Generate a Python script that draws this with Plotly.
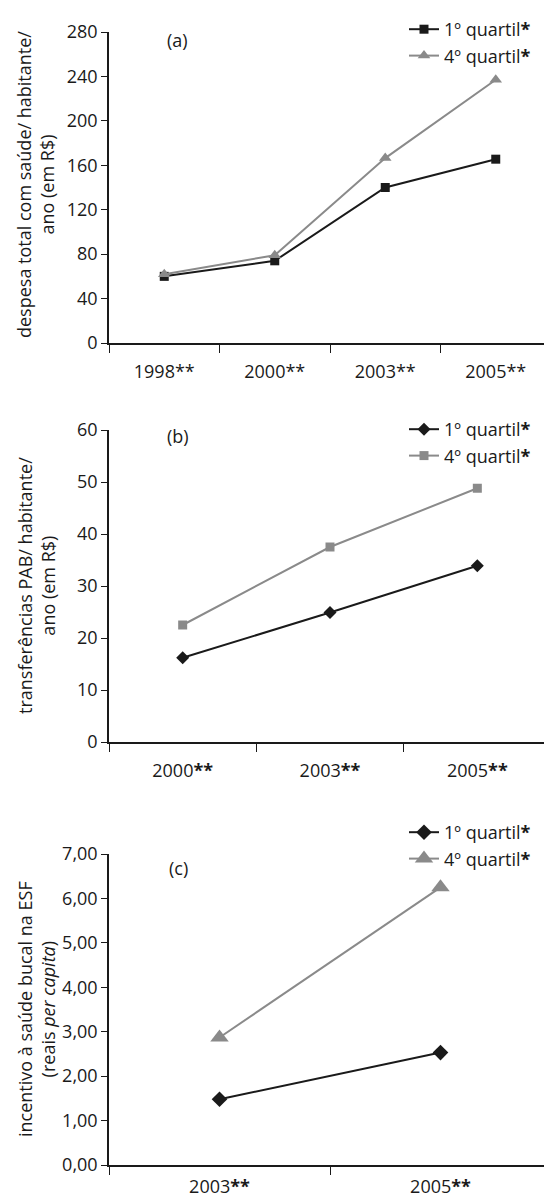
import plotly.graph_objects as go

# ---- data ----
years_a = ["1998**", "2000**", "2003**", "2005**"]
q1_a = [60, 74, 140, 165.5]
q4_a = [62, 79, 166.5, 237]

years_b = ["2000<b>**</b>", "2003<b>**</b>", "2005<b>**</b>"]
q1_b = [16.2, 24.9, 33.9]
q4_b = [22.5, 37.5, 48.8]

years_c = ["2003<b>**</b>", "2005<b>**</b>"]
q1_c = [1.48, 2.53]
q4_c = [2.87, 6.25]

name_q1 = "1º quartil<b>*</b>"
name_q4 = "4º quartil<b>*</b>"

FONT = "Open Sans"
FS = 18
BLACK = "#1a1a1a"
GRAY = "#8a8a8a"
OFF = 8                     # default page body margin
W, H = 552 - OFF, 1204 - OFF

def px_x(v):
    return (v - OFF) / W

def px_y(v):
    return 1 - (v - OFF) / H

fig = go.Figure()

# (a)
fig.add_trace(go.Scatter(x=years_a, y=q1_a, name=name_q1, mode="lines+markers",
                         line=dict(color=BLACK, width=2),
                         marker=dict(symbol="square", size=9, color=BLACK),
                         xaxis="x", yaxis="y", legend="legend"))
fig.add_trace(go.Scatter(x=years_a, y=q4_a, name=name_q4, mode="lines+markers",
                         line=dict(color=GRAY, width=2),
                         marker=dict(symbol="triangle-up", size=11, color=GRAY),
                         xaxis="x", yaxis="y", legend="legend"))
# (b)
fig.add_trace(go.Scatter(x=years_b, y=q1_b, name=name_q1, mode="lines+markers",
                         line=dict(color=BLACK, width=2),
                         marker=dict(symbol="diamond", size=10, color=BLACK),
                         xaxis="x2", yaxis="y2", legend="legend2"))
fig.add_trace(go.Scatter(x=years_b, y=q4_b, name=name_q4, mode="lines+markers",
                         line=dict(color=GRAY, width=2),
                         marker=dict(symbol="square", size=9, color=GRAY),
                         xaxis="x2", yaxis="y2", legend="legend2"))
# (c)
fig.add_trace(go.Scatter(x=years_c, y=q1_c, name=name_q1, mode="lines+markers",
                         line=dict(color=BLACK, width=2),
                         marker=dict(symbol="diamond", size=12, color=BLACK),
                         xaxis="x3", yaxis="y3", legend="legend3"))
fig.add_trace(go.Scatter(x=years_c, y=q4_c, name=name_q4, mode="lines+markers",
                         line=dict(color=GRAY, width=2),
                         marker=dict(symbol="triangle-up", size=16, color=GRAY),
                         xaxis="x3", yaxis="y3", legend="legend3"))

xdom = [px_x(109), px_x(551)]
tickfont = dict(family=FONT, size=FS, color=BLACK)

def xax(anchor, n, standoff=12):
    return dict(domain=xdom, anchor=anchor, range=[-0.5, n - 0.5],
                showline=True, linecolor=BLACK, linewidth=1.5,
                ticks="outside", tickson="boundaries", ticklen=8, tickcolor=BLACK, tickwidth=1,
                ticklabelstandoff=standoff,
                showgrid=False, zeroline=False, tickfont=tickfont, fixedrange=True,
                automargin=False)

def yax(anchor, top, bottom, rng, dtick, fmt=None):
    d = dict(domain=[px_y(bottom), px_y(top)], anchor=anchor, range=rng, dtick=dtick,
             showline=True, linecolor=BLACK, linewidth=1.5, ticks="outside", ticklen=6,
             tickcolor=BLACK, tickwidth=1, showgrid=False, zeroline=False,
             tickfont=tickfont, fixedrange=True, automargin=False)
    if fmt:
        d["tickformat"] = fmt
    return d

def leg(top):
    return dict(x=px_x(404), y=px_y(top), xanchor="left", yanchor="top",
                font=dict(family=FONT, size=FS, color=BLACK),
                bgcolor="rgba(0,0,0,0)", tracegroupgap=0, itemwidth=30)

ann = []
def ytitle(text, cy):
    ann.append(dict(text=text, xref="paper", yref="paper", x=px_x(36), y=px_y(cy),
                    xanchor="center", yanchor="middle", textangle=-90, showarrow=False,
                    font=dict(family=FONT, size=FS, color=BLACK)))

def plabel(text, x, y):
    ann.append(dict(text=text, xref="paper", yref="paper", x=px_x(x), y=px_y(y),
                    xanchor="center", yanchor="middle", showarrow=False,
                    font=dict(family=FONT, size=FS, color=BLACK)))

ytitle("despesa total com saúde/ habitante/<br>ano (em R$)", 185)
ytitle("transferências PAB/ habitante/<br>ano (em R$)", 586)
ytitle("incentivo à saúde bucal na ESF<br>(reais <i>per capita</i>)", 1009)
plabel("(a)", 177, 40)
plabel("(b)", 178, 436)
plabel("(c)", 178, 868)

fig.update_layout(
    width=W, height=H, autosize=False,
    margin=dict(l=0, r=0, t=0, b=0, autoexpand=False),
    paper_bgcolor="white", plot_bgcolor="white",
    separators=",.",
    font=dict(family=FONT, size=FS, color=BLACK),
    xaxis=xax("y", len(years_a)), yaxis=yax("x", 32, 343, [0, 280], 40),
    xaxis2=xax("y2", len(years_b)), yaxis2=yax("x2", 430, 742, [0, 60], 10),
    xaxis3=xax("y3", len(years_c), 5), yaxis3=yax("x3", 854, 1165, [0, 7], 1, ".2f"),
    legend=leg(11), legend2=leg(411), legend3=leg(814),
    annotations=ann,
    showlegend=True,
)

fig.write_html("out.html")
